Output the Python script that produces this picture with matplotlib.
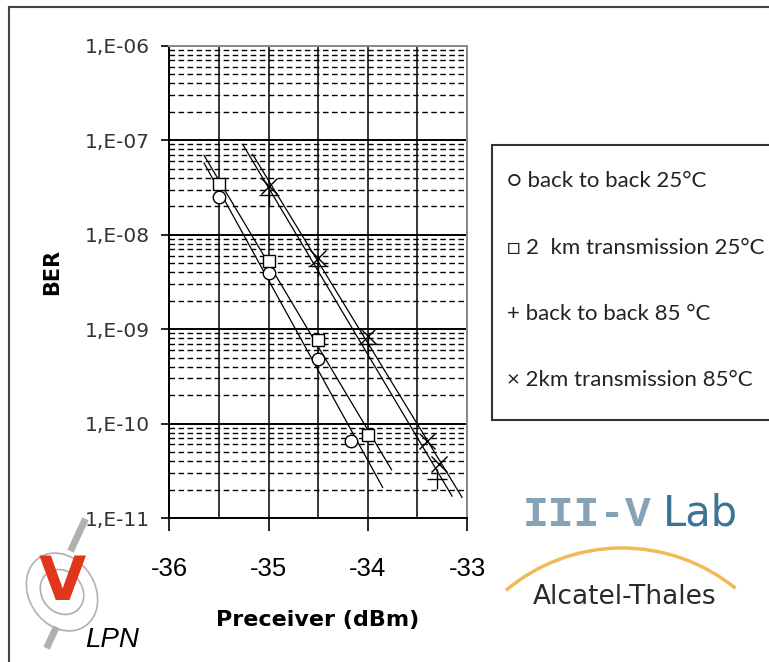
import numpy as np
import matplotlib
matplotlib.use("Agg")
from matplotlib import pyplot as plt
from matplotlib.patches import Rectangle, Ellipse, Arc
from matplotlib.ticker import FixedLocator, FuncFormatter

plt.rcParams["axes.unicode_minus"] = False

# data (Preceiver in dBm, BER)
x_b2b_25 = [-35.5, -35.0, -34.5, -34.17]
ber_b2b_25 = [2.5e-8, 3.9e-9, 4.8e-10, 6.6e-11]

x_2km_25 = [-35.5, -35.0, -34.5, -34.0]
ber_2km_25 = [3.4e-8, 5.3e-9, 7.7e-10, 7.5e-11]

x_b2b_85 = [-35.0, -34.5, -34.0, -33.3]
ber_b2b_85 = [2.6e-8, 4.6e-9, 7.0e-10, 2.6e-11]

x_2km_85 = [-35.0, -34.5, -34.0, -33.4, -33.28]
ber_2km_85 = [3.3e-8, 5.6e-9, 8.5e-10, 6.5e-11, 3.7e-11]

# x range covered by each trend line
fit_range_b2b_25 = [-35.65, -33.85]
fit_range_2km_25 = [-35.65, -33.76]
fit_range_b2b_85 = [-35.26, -33.15]
fit_range_2km_85 = [-35.16, -33.05]

legend_labels = ["\u25cb back to back 25\u00b0C",
                 "\u25a1 2  km transmission 25\u00b0C",
                 "+ back to back 85 \u00b0C",
                 "\u00d7 2km transmission 85\u00b0C"]


def trend(x, y, rng):
	# exponential trend line, like the spreadsheet one
	k = np.polyfit(x, np.log10(y), 1)
	xs = np.array(rng)
	return xs, 10 ** np.polyval(k, xs)


W, H = 769, 662
fig = plt.figure(figsize=(W / 100, H / 100), dpi=100)
ax = fig.add_axes([169.3 / W, 1 - 518 / H, (467 - 169.3) / W, (518 - 45.7) / H])

ax.set_yscale("log")
ax.set_xlim(-36, -33)
ax.set_ylim(1e-11, 1e-6)

series = [
	(x_b2b_25, ber_b2b_25, fit_range_b2b_25, "o", 9),
	(x_2km_25, ber_2km_25, fit_range_2km_25, "s", 9),
	(x_b2b_85, ber_b2b_85, fit_range_b2b_85, "+", 14),
	(x_2km_85, ber_2km_85, fit_range_2km_85, "x", 11),
]
for x, y, rng, m, ms in series:
	xs, ys = trend(x, y, rng)
	ax.plot(xs, ys, color="black", lw=0.9, zorder=3)
	ax.plot(x, y, ls="none", marker=m, ms=ms, mfc="white" if m in "os" else "none",
		mec="black", mew=1.0, zorder=4)

# ticks and grid
ax.xaxis.set_major_locator(FixedLocator([-36, -35, -34, -33]))
ax.xaxis.set_minor_locator(FixedLocator([-35.5, -34.5, -33.5]))
ax.yaxis.set_major_locator(FixedLocator([10.0 ** e for e in range(-11, -5)]))
ax.yaxis.set_minor_locator(FixedLocator([m * 10.0 ** e for e in range(-11, -6) for m in range(2, 10)]))
ax.yaxis.set_major_formatter(FuncFormatter(lambda v, p: "1,E-%02d" % round(-np.log10(v))))
ax.yaxis.set_minor_formatter(FuncFormatter(lambda v, p: ""))

ax.grid(axis="x", which="both", color="black", lw=1.1)
ax.grid(axis="y", which="major", color="black", lw=1.4)
ax.grid(axis="y", which="minor", color="black", lw=1.0, ls=(0, (4, 2.5)))
ax.set_axisbelow(True)

ax.tick_params(axis="x", which="major", direction="out", length=9, width=1.2, pad=19, labelsize=18.5)
ax.tick_params(axis="x", which="minor", length=0)
ax.tick_params(axis="y", which="major", direction="out", length=6, width=1.2, pad=8, labelsize=14.5,
	labelcolor="#333333")
ax.tick_params(axis="y", which="minor", length=0)
for t in ax.get_xticklabels():
	t.set_fontfamily("Liberation Sans")
for t in ax.get_yticklabels():
	t.set_fontfamily("DejaVu Sans")

for s in ["left", "bottom"]:
	ax.spines[s].set_linewidth(1.4)
	ax.spines[s].set_color("black")
for s in ["top", "right"]:
	ax.spines[s].set_linewidth(1.4)
	ax.spines[s].set_color("#8a8a8a")

fig.text(318 / W, 1 - 620 / H, "Preceiver (dBm)", ha="center", va="center",
	fontsize=16, fontweight="bold", family="DejaVu Sans")
fig.text(52 / W, 1 - 272 / H, "BER", ha="center", va="center", rotation=90,
	fontsize=15, fontweight="bold", family="DejaVu Sans")

# legend box, cut by the right edge like in the source
fig.patches.append(Rectangle((492 / W, 1 - 420 / H), 0.5, 275 / H, transform=fig.transFigure,
	facecolor="white", edgecolor="#333333", lw=1.5))
for i, lab in enumerate(legend_labels):
	fig.text(507 / W, 1 - (181 + 66.5 * i) / H, lab, ha="left", va="center",
		fontsize=16, family=["Lato", "DejaVu Sans"], color="#222222")

# outer frame of the picture
fig.add_artist(plt.Line2D([9 / W, 9 / W], [0, 1 - 7 / H], transform=fig.transFigure, color="#444444", lw=1.5))
fig.add_artist(plt.Line2D([9 / W, 1], [1 - 7 / H, 1 - 7 / H], transform=fig.transFigure, color="#444444", lw=1.5))

# III-V Lab / Alcatel-Thales logo
fig.text(523 / W, 1 - 515 / H, "III-V", ha="left", va="center", fontsize=31, fontweight="bold",
	family="Liberation Mono", color="#86a2b6")
fig.text(663 / W, 1 - 513 / H, "Lab", ha="left", va="center", fontsize=30,
	family="DejaVu Sans", color="#3f7396")
fig.patches.append(Arc((622 / W, 1 - 728 / H), 360 / W, 360 / H, theta1=55, theta2=126,
	transform=fig.transFigure, color="#f0ad3c", lw=2.5, alpha=0.85))
fig.text(625 / W, 1 - 597 / H, "Alcatel-Thales", ha="center", va="center", fontsize=19,
	family="DejaVu Sans", color="#2a2a2a")

# LPN logo
fig.patches.append(Ellipse((62 / W, 1 - 592 / H), 68 / W, 80 / H, angle=20, transform=fig.transFigure,
	facecolor="none", edgecolor="#b0b0b0", lw=1.2))
fig.patches.append(Ellipse((62 / W, 1 - 592 / H), 42 / W, 46 / H, angle=20, transform=fig.transFigure,
	facecolor="none", edgecolor="#b0b0b0", lw=1.2))
fig.add_artist(plt.Line2D([84 / W, 72 / W], [1 - 522 / H, 1 - 548 / H], transform=fig.transFigure, color="#b0b0b0", lw=5))
fig.add_artist(plt.Line2D([55 / W, 48 / W], [1 - 630 / H, 1 - 645 / H], transform=fig.transFigure, color="#b0b0b0", lw=5))
fig.text(62 / W, 1 - 583 / H, "V", ha="center", va="center", fontsize=44, fontweight="bold",
	family="DejaVu Sans", color="#e0361b")
fig.text(112 / W, 1 - 640 / H, "LPN", ha="center", va="center", fontsize=20, style="italic",
	family="Liberation Sans", color="black")

fig.savefig("out.png", dpi=100)
